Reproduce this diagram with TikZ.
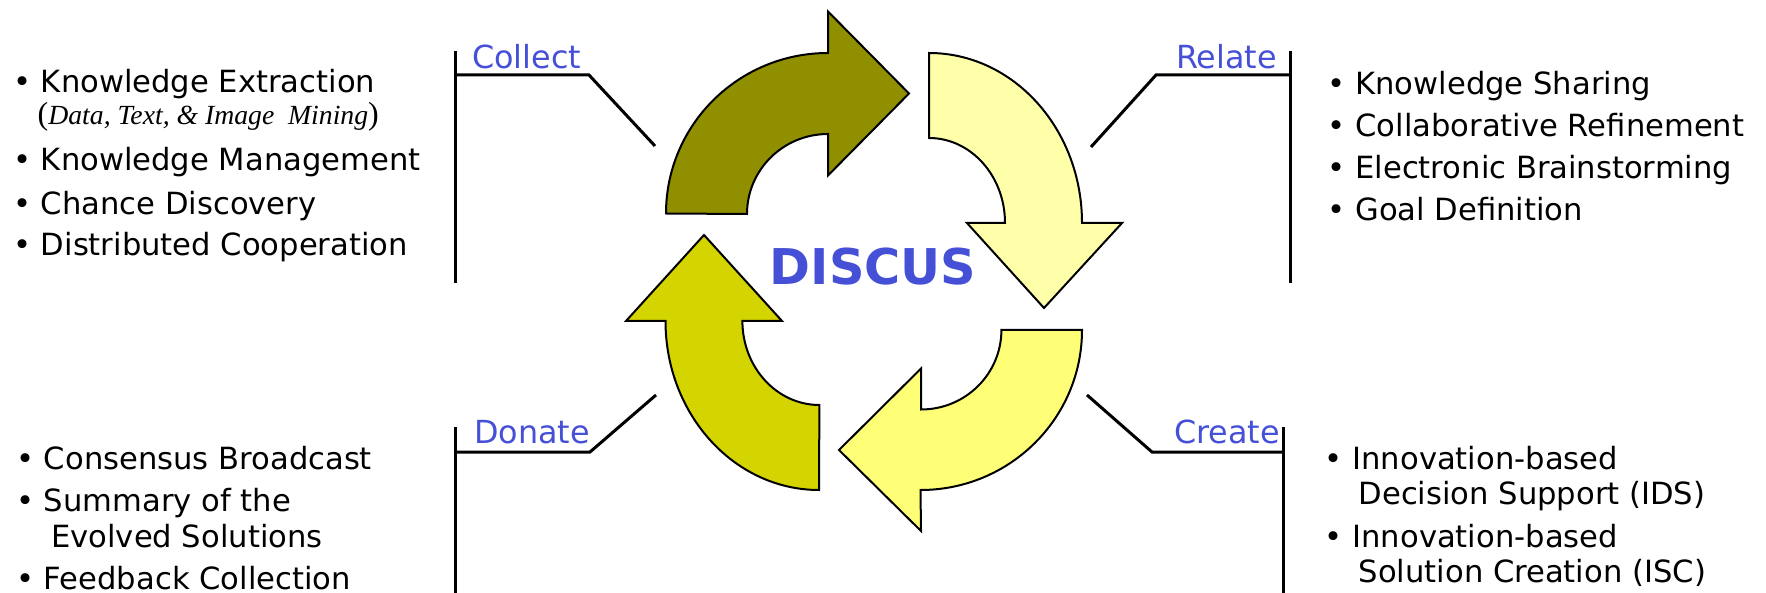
\documentclass[tikz,border=0pt]{standalone}
\usepackage{fontspec}
\newfontfamily\dvs{DejaVu Sans}
\newfontfamily\lser{Liberation Serif}
\definecolor{discblue}{RGB}{70,80,215}
\definecolor{olivea}{RGB}{143,143,0}
\definecolor{palea}{RGB}{255,255,170}
\definecolor{brighta}{RGB}{255,255,119}
\definecolor{darka}{RGB}{212,212,0}
\begin{document}
\begin{tikzpicture}[x=1pt,y=-1pt,
  item/.style={anchor=base west, inner sep=0pt, font=\dvs\fontsize{30.6}{36}\selectfont},
  lab/.style={inner sep=0pt, text=discblue, font=\dvs\fontsize{31.8}{36}\selectfont},
  arr/.style={draw=black, line width=2pt, line join=miter},
  brk/.style={draw=black, line width=3pt}]
\useasboundingbox (0,0) rectangle (1766,593);

% ---- cycle arrows ----
% Collect (olive, top-left, pointing right)
\path[arr, fill=olivea] (666,213.5) arc[start angle=180, end angle=270, x radius=162, y radius=160.5]
  -- (828,11.5) -- (909,93.5) -- (828,175.5) -- (828,134)
  arc[start angle=270, end angle=180, x radius=81, y radius=80] -- cycle;
% Relate (pale, top-right, pointing down)
\path[arr, fill=palea] (929,53) arc[start angle=270, end angle=360, x radius=153, y radius=170]
  -- (1122,223) -- (1044,308) -- (967,223) -- (1005,223)
  arc[start angle=360, end angle=270, x radius=76, y radius=85] -- cycle;
% Create (bright yellow, bottom-right, pointing left)
\path[arr, fill=brighta] (1082,330) arc[start angle=0, end angle=90, x radius=161.5, y radius=160]
  -- (921,531) -- (839,450) -- (921,368.5) -- (921,409.5)
  arc[start angle=90, end angle=0, x radius=80.4, y radius=79.5] -- cycle;
% Donate (dark yellow, bottom-left, pointing up)
\path[arr, fill=darka] (819,490) arc[start angle=90, end angle=180, x radius=153.5, y radius=169]
  -- (626,321) -- (704,235) -- (782,321) -- (742.4,321)
  arc[start angle=180, end angle=90, x radius=77, y radius=84] -- cycle;

\node[anchor=base, inner sep=0pt, text=discblue, font=\dvs\bfseries\fontsize{49.3}{50}\selectfont] (discus) at (873,285) {DISCUS};

% ---- brackets ----
\coordinate (c1) at (655,146); \coordinate (c2) at (589,75); \coordinate (c3) at (455,75);
\coordinate (c4) at (455,51); \coordinate (c5) at (455,283);
\draw[brk] (c1) -- (c2) -- (c3); \draw[brk] (c4) -- (c5);
\coordinate (r1) at (1091,147); \coordinate (r2) at (1156,75); \coordinate (r3) at (1290,75);
\coordinate (r4) at (1290,51); \coordinate (r5) at (1290,283);
\draw[brk] (r1) -- (r2) -- (r3); \draw[brk] (r4) -- (r5);
\coordinate (d1) at (656,395); \coordinate (d2) at (590,452); \coordinate (d3) at (455,452);
\coordinate (d4) at (455,427); \coordinate (d5) at (455,593);
\draw[brk] (d1) -- (d2) -- (d3); \draw[brk] (d4) -- (d5);
\coordinate (e1) at (1087,395); \coordinate (e2) at (1152,452); \coordinate (e3) at (1283,452);
\coordinate (e4) at (1283,427); \coordinate (e5) at (1283,593);
\draw[brk] (e1) -- (e2) -- (e3); \draw[brk] (e4) -- (e5);

% ---- labels ----
\node[lab, anchor=base west] (collect) at (472,69) {Collect};
\node[lab, anchor=base east] (relate) at (1277,69) {Relate};
\node[lab, anchor=base west] (donate) at (474,443) {Donate};
\node[lab, anchor=base east] (create) at (1280,443) {Create};

% ---- top-left list ----
\node[item] (tl1) at (13,93) {•~Knowledge Extraction};
\node[anchor=base west, inner sep=0pt] (tl1b) at (37.5,125) {{\lser\fontsize{32}{32}\selectfont(}{\lser\itshape\fontsize{27.7}{28}\selectfont Data, Text, \& Image~~Mining}{\lser\fontsize{32}{32}\selectfont)}};
\node[item] (tl2) at (13,171) {•~Knowledge Management};
\node[item] (tl3) at (13,215) {•~Chance Discovery};
\node[item] (tl4) at (13,256) {•~Distributed Cooperation};

% ---- top-right list ----
\node[item] (tr1) at (1327.5,94.5) {•~Knowledge Sharing};
\node[item] (tr2) at (1327.5,136.5) {•~Collaborative Refinement};
\node[item] (tr3) at (1327.5,178.5) {•~Electronic Brainstorming};
\node[item] (tr4) at (1327.5,220.5) {•~Goal Definition};

% ---- bottom-left list ----
\node[item] (bl1) at (16,469) {•~Consensus Broadcast};
\node[item] (bl2) at (16,511) {•~Summary of the};
\node[item] (bl2b) at (51,547) {Evolved Solutions};
\node[item] (bl3) at (16,589) {•~Feedback Collection};

% ---- bottom-right list ----
\node[item] (br1) at (1324.5,469.5) {•~Innovation-based};
\node[item] (br1b) at (1358.5,504.5) {Decision Support (IDS)};
\node[item] (br2) at (1324.5,547.5) {•~Innovation-based};
\node[item] (br2b) at (1358.5,582.5) {Solution Creation (ISC)};
\end{tikzpicture}
\end{document}
